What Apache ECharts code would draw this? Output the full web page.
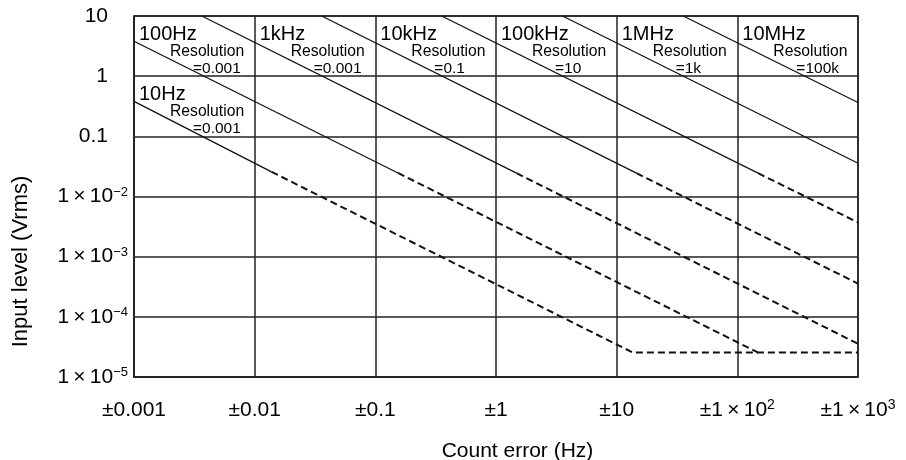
<!DOCTYPE html>
<html><head><meta charset="utf-8">
<script src="https://cdn.jsdelivr.net/npm/echarts@6/dist/echarts.min.js"></script>
<style>html,body{margin:0;padding:0;background:#fff;width:906px;height:460px;overflow:hidden}#c{position:absolute;left:0;top:0;width:906px;height:460px}</style>
</head><body><div id="c"></div>
<script>
// ---- axis tick labels ----
const xTickText = ['±0.001','±0.01','±0.1','±1','±10','±1\u2009×\u200910','±1\u2009×\u200910'];
const xTickSup  = ['','','','','','2','3'];
const yTickText = ['1\u2009×\u200910','1\u2009×\u200910','1\u2009×\u200910','1\u2009×\u200910','0.1','1','10'];
const yTickSup  = ['−5','−4','−3','−2','','',''];

// ---- curves: [count error (Hz), input level (Vrms)] ----
const solid10Hz    = [[0.001,0.38],[0.0138,0.0257]];
const dashed10Hz   = [[0.0138,0.0257],[13.6,2.55e-5],[1000,2.55e-5]];
const solid100Hz   = [[0.001,3.8],[0.154,0.0246]];
const dashed100Hz  = [[0.154,0.0246],[148.6,2.55e-5]];
const solid1kHz    = [[0.00364,10],[1.48,0.0244]];
const dashed1kHz   = [[1.48,0.0244],[1000,3.57e-5]];
const solid10kHz   = [[0.0359,10],[14.6,0.0244]];
const dashed10kHz  = [[14.6,0.0244],[1000,3.57e-4]];
const solid100kHz  = [[0.354,10],[148.6,0.0244]];
const dashed100kHz = [[148.6,0.0244],[1000,3.7e-3]];
const solid1MHz    = [[3.56,10],[1000,0.0357]];
const solid10MHz   = [[35.6,10],[1000,0.365]];

// ---- band annotations ----
const bandNames      = ['10Hz','100Hz','1kHz','10kHz','100kHz','1MHz','10MHz'];
const bandResolution = ['=0.001','=0.001','=0.001','=0.1','=10','=1k','=100k'];
const bandCellX      = [0.001,0.001,0.01,0.1,1,10,100];   // left edge of the label cell
const bandCellY      = [1,10,10,10,10,10,10];             // top edge of the label cell

const FONT = '"Liberation Sans", Arial, Helvetica, sans-serif';
const INK = '#111';
const GRID = '#222';

const chart = echarts.init(document.getElementById('c'), null, {renderer: 'canvas', width: 906, height: 460});

function solid(name, data) {
  return {name, type: 'line', data, symbol: 'none', silent: true, animation: false,
    lineStyle: {color: INK, width: 1.3, type: 'solid'}, z: 3};
}
function dashed(name, data) {
  return {name, type: 'line', data, symbol: 'none', silent: true, animation: false,
    lineStyle: {color: INK, width: 2, type: [7, 4]}, z: 3};
}

const series = [
  solid('10Hz', solid10Hz), dashed('10Hz dashed', dashed10Hz),
  solid('100Hz', solid100Hz), dashed('100Hz dashed', dashed100Hz),
  solid('1kHz', solid1kHz), dashed('1kHz dashed', dashed1kHz),
  solid('10kHz', solid10kHz), dashed('10kHz dashed', dashed10kHz),
  solid('100kHz', solid100kHz), dashed('100kHz dashed', dashed100kHz),
  solid('1MHz', solid1MHz),
  solid('10MHz', solid10MHz)
];

function xLabel(v) {
  const i = Math.round(Math.log10(v)) + 3;
  const t = xTickText[i] || '';
  const s = xTickSup[i] || '';
  return s ? '{b|' + t + '}{s|' + s + '}' : '{b|' + t + '}';
}
function yLabel(v) {
  const i = Math.round(Math.log10(v)) + 5;
  const t = yTickText[i] || '';
  const s = yTickSup[i] || '';
  return s ? '{b|' + t + '}{s|' + s + '}' : '{b|' + t + '}{g| }';
}

chart.setOption({
  animation: false,
  backgroundColor: '#fff',
  textStyle: {fontFamily: FONT, color: '#000'},
  grid: {left: 134, right: 48, top: 16, bottom: 83, show: true, borderColor: GRID, borderWidth: 1.5,
         containLabel: false, outerBoundsMode: 'none'},
  xAxis: {
    type: 'log', logBase: 10, min: 0.001, max: 1000, interval: 1,
    name: 'Count error (Hz)', nameLocation: 'middle', nameGap: 64,
    nameTextStyle: {fontFamily: FONT, fontSize: 21, color: '#000', padding: [0, 0, 0, 43]},
    axisLine: {show: true, lineStyle: {color: GRID, width: 1.5}},
    axisTick: {show: false},
    minorTick: {show: false},
    splitLine: {show: true, lineStyle: {color: GRID, width: 1.5}},
    axisLabel: {
      margin: 21, formatter: xLabel, color: '#000',
      rich: {
        b: {fontFamily: FONT, fontSize: 21, lineHeight: 24, color: '#000'},
        s: {fontFamily: FONT, fontSize: 14, lineHeight: 6, verticalAlign: 'top', color: '#000'}
      }
    }
  },
  yAxis: {
    type: 'log', logBase: 10, min: 0.00001, max: 10, interval: 1,
    name: 'Input level (Vrms)', nameLocation: 'middle', nameGap: 102,
    nameTextStyle: {fontFamily: FONT, fontSize: 22, color: '#000', padding: [0, 130, 0, 0]},
    axisLine: {show: true, lineStyle: {color: GRID, width: 1.5}},
    axisTick: {show: false},
    minorTick: {show: false},
    splitLine: {show: true, lineStyle: {color: GRID, width: 1.5}},
    axisLabel: {
      margin: 6, formatter: yLabel, color: '#000',
      rich: {
        b: {fontFamily: FONT, fontSize: 21, lineHeight: 22, color: '#000'},
        s: {fontFamily: FONT, fontSize: 13, lineHeight: 8, verticalAlign: 'top', color: '#000'},
        g: {fontFamily: FONT, fontSize: 13, width: 20}
      }
    }
  },
  series
});

const g = [];
bandNames.forEach(function (n, i) {
  const p = chart.convertToPixel({gridIndex: 0}, [bandCellX[i], bandCellY[i]]);
  g.push({type: 'text', x: p[0] + 5, y: p[1] + 18.5, silent: true, z: 10,
    style: {text: n, fontFamily: FONT, fontSize: 20, fill: '#000', align: 'left', verticalAlign: 'middle'}});
  g.push({type: 'text', x: p[0] + 36, y: p[1] + 35.3, silent: true, z: 10,
    style: {text: 'Resolution', fontFamily: FONT, fontSize: 15.7, fill: '#000', align: 'left', verticalAlign: 'middle'}});
  g.push({type: 'text', x: p[0] + 59, y: p[1] + 53, silent: true, z: 10,
    style: {text: bandResolution[i], fontFamily: FONT, fontSize: 15.5, fill: '#000', align: 'left', verticalAlign: 'middle'}});
});
chart.setOption({graphic: g});
</script>
</body></html>
